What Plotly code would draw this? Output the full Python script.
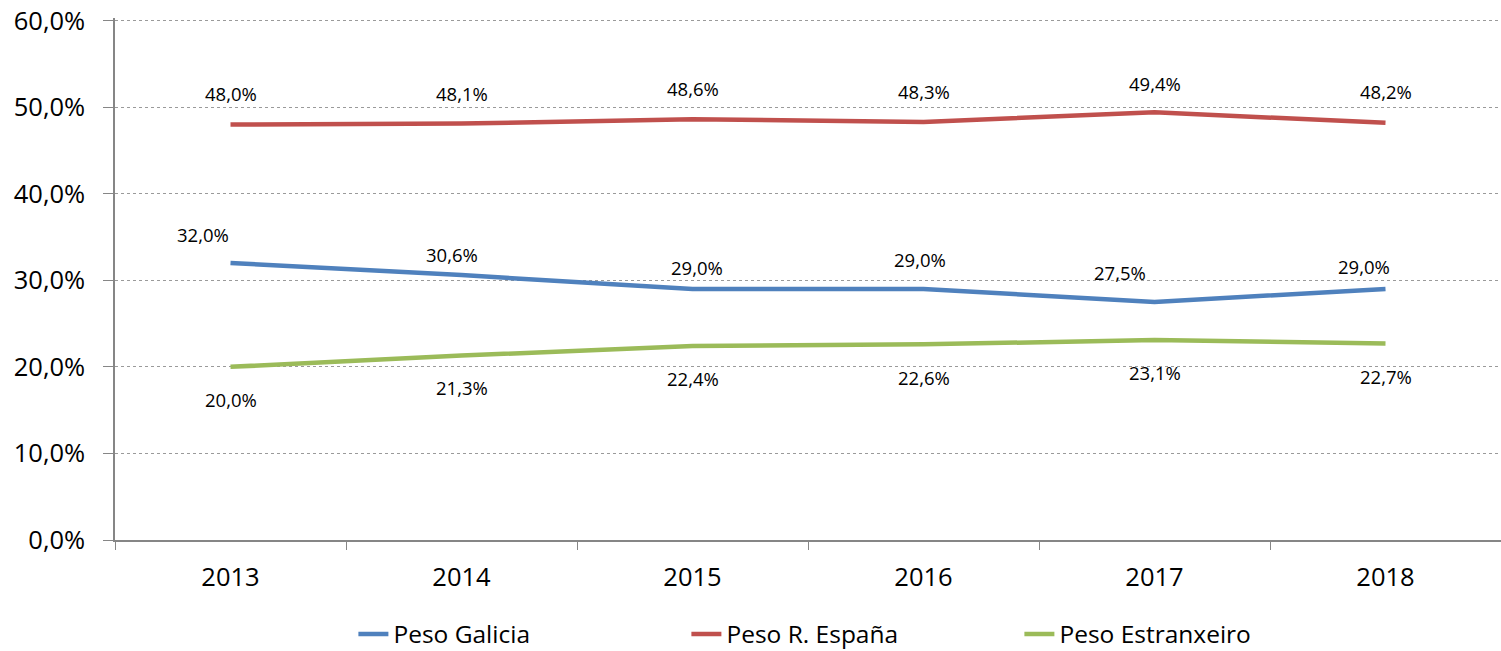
import plotly.graph_objects as go

years = ["2013", "2014", "2015", "2016", "2017", "2018"]
galicia = [32.0, 30.6, 29.0, 29.0, 27.5, 29.0]
espana = [48.0, 48.1, 48.6, 48.3, 49.4, 48.2]
estranxeiro = [20.0, 21.3, 22.4, 22.6, 23.1, 22.7]
y_ticks = [0, 10, 20, 30, 40, 50, 60]

names = ["Peso Galicia", "Peso R. España", "Peso Estranxeiro"]
colors = ["#4F81BD", "#C0504D", "#9BBB59"]
series = [galicia, espana, estranxeiro]

# label offsets (style): (xshift, yshift) in px
offs = [
    [(-28, 28), (-10, 21), (4, 21), (-4, 29), (-35, 29), (-22, 22)],
    [(0, 31), (0, 30), (0, 31), (0, 30), (0, 29), (0, 31)],
    [(0, -33), (0, -32), (0, -32), (0, -33), (0, -32), (0, -33)],
]

FONT = "Open Sans, sans-serif"
Y_MAX = 60.3

def fmt(v):
    return f"{v:.1f}".replace(".", ",") + "%"

fig = go.Figure()
for n, c, s in zip(names, colors, series):
    fig.add_trace(go.Scatter(x=years, y=s, mode="lines", name=n,
                             line=dict(color=c, width=4.5)))

ann = []
for s, o in zip(series, offs):
    for i, (v, (dx, dy)) in enumerate(zip(s, o)):
        ann.append(dict(x=i, y=v, xref="x", yref="y", text=fmt(v), showarrow=False,
                        xshift=dx, yshift=dy,
                        font=dict(family=FONT, size=18.5, color="#000")))

fig.update_layout(
    width=1501, height=651,
    margin=dict(l=115, r=0, t=18.4, b=111, autoexpand=False),
    paper_bgcolor="white", plot_bgcolor="white",
    annotations=ann,
    showlegend=True,
    legend=dict(orientation="h", x=0.172, xanchor="left", y=-0.18, yanchor="middle",
                font=dict(family=FONT, size=24.5, color="#000"),
                bgcolor="rgba(0,0,0,0)", entrywidth=288, entrywidthmode="pixels"),
    xaxis=dict(type="category", tickson="boundaries", ticks="outside", ticklen=8,
               tickcolor="#868686", showline=True, linecolor="#868686", linewidth=1.5,
               showgrid=False, automargin=False, ticklabelstandoff=14,
               tickfont=dict(family=FONT, size=25.5, color="#000"),
               range=[-0.5, 5.5]),
    yaxis=dict(range=[0, Y_MAX], tickvals=y_ticks,
               ticktext=[fmt(v) for v in y_ticks],
               ticks="outside", ticklen=10, tickcolor="#868686", ticklabelstandoff=13,
               ticklabeloverflow="allow",
               showline=True, linecolor="#868686", linewidth=1.5, automargin=False,
               showgrid=True, gridcolor="#9a9a9a", griddash="dot", gridwidth=1,
               zeroline=False,
               tickfont=dict(family=FONT, size=25.5, color="#000")),
)

# remove the browser's default 8px body margin so the figure fills the window
fig.write_html("out.html", config={"displayModeBar": False},
               post_script="document.body.style.margin='0';")
